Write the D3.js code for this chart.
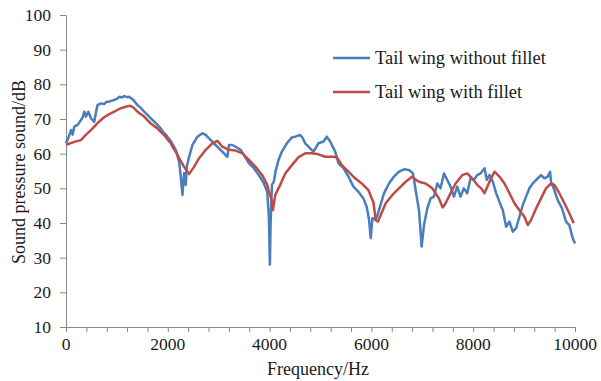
<!DOCTYPE html>
<html><head><meta charset="utf-8">
<script src="https://cdn.jsdelivr.net/npm/d3@7"></script>
<style>body{margin:0;background:#fff}svg{display:block}text{font-family:"Liberation Serif","Times New Roman",serif;fill:#1a1a1a}</style>
</head><body><svg id="c" width="601" height="381"></svg>
<script>
const seriesNames = ["Tail wing without fillet", "Tail wing with fillet"];
const seriesColors = ["#4A7EBB", "#BE4B48"];
const xTickValues = [0, 2000, 4000, 6000, 8000, 10000];
const yTickValues = [10, 20, 30, 40, 50, 60, 70, 80, 90, 100];

const blueFreq = [0,45,100,130,163,229,294,330,359,392,438,470,490,555,590,620,686,751,800,849,900,947,1000,1045,1100,1143,1200,1241,1307,1350,1405,1470,1536,1600,1667,1730,1797,1860,1928,1961,2059,2157,2222,2255,2288,2320,2353,2373,2418,2484,2582,2680,2745,2810,2908,3006,3104,3170,3202,3268,3333,3431,3497,3595,3692,3790,3888,3953,3986,4006,4020,4046,4085,4115,4176,4242,4340,4438,4503,4601,4650,4699,4797,4863,4961,5059,5124,5190,5288,5353,5451,5549,5647,5745,5843,5908,5954,5987,6020,6085,6150,6248,6346,6444,6542,6641,6739,6817,6869,6935,6987,7033,7098,7163,7229,7294,7359,7425,7490,7555,7621,7686,7751,7817,7882,7947,8013,8078,8143,8222,8268,8320,8386,8451,8516,8582,8647,8712,8778,8843,8908,8974,9039,9104,9170,9235,9333,9398,9465,9510,9529,9594,9660,9745,9824,9889,9955,10000];
const blueVal = [63,64.5,66.8,65.5,67.8,68.3,69.7,70.5,72.1,70.7,72.1,71.0,70.2,69.2,72.0,74.0,74.5,74.3,75.0,75.0,75.3,75.5,75.8,76.4,76.2,76.6,76.3,76.4,75.7,75.0,74.0,73.2,72.1,71.2,70.2,69.3,68.3,67.3,65.9,65.5,63.6,61.1,57.7,53.4,48.1,54.4,51.0,56.2,59.1,62.5,64.9,65.9,65.4,64.4,63.0,61.5,60.1,59.1,62.5,62.5,62.0,61.1,59.6,57.2,55.8,53.8,51.4,49.0,41.8,28.0,40.0,51.0,52.0,54.8,58.2,60.6,63.0,64.7,64.9,65.4,64.5,63.0,61.5,60.6,63.0,63.5,64.9,63.5,60.6,57.2,55.8,53.4,50.5,49.0,47.1,44.7,40.9,35.6,41.4,40.9,43.7,48.6,51.4,53.4,54.8,55.5,55.3,54.3,49.5,43.7,33.2,39.4,44.2,47.1,47.6,51.4,50.0,54.3,52.4,50.5,47.6,50.5,47.6,50.0,48.6,52.9,52.4,53.8,54.3,55.8,52.4,53.8,51.9,48.6,46.1,43.7,38.9,40.4,37.5,38.5,41.8,45.2,47.6,50.0,51.4,52.4,53.8,52.9,53.4,54.8,51.9,49.5,46.6,44.2,40.4,39.4,35.6,34.1];

const redFreq = [0,45,163,294,360,425,490,555,620,686,750,817,880,947,1010,1078,1140,1209,1260,1307,1350,1405,1470,1536,1600,1667,1730,1797,1860,1928,1990,2059,2092,2157,2222,2320,2418,2516,2614,2745,2876,2974,3072,3202,3333,3464,3595,3725,3856,3953,3980,4039,4065,4111,4209,4307,4438,4569,4699,4830,4961,5092,5222,5320,5418,5549,5680,5810,5941,6020,6039,6085,6130,6183,6281,6412,6542,6673,6804,6870,6935,7065,7196,7327,7400,7450,7523,7653,7784,7882,7980,8078,8157,8222,8320,8418,8516,8614,8712,8810,8908,9006,9072,9137,9235,9333,9431,9529,9594,9693,9791,9889,9974];
const redVal = [62.5,62.8,63.4,63.9,65.0,65.9,66.8,67.8,68.8,69.7,70.5,71.1,71.6,72.1,72.6,73.1,73.4,73.7,73.8,73.5,72.9,72.1,71.4,70.7,69.7,68.7,68.0,67.3,66.3,65.4,64.2,63.0,62.0,60.5,58.7,56.2,54.1,56.2,58.7,61.1,63.0,63.7,62.0,61.1,60.9,60.1,58.2,56.2,53.8,51.0,49.5,46.6,43.7,48.1,51.0,54.3,56.7,59.0,60.1,60.1,59.8,59.1,59.1,59.0,56.7,54.8,52.9,51.4,49.5,46.6,46.1,40.9,40.4,42.3,45.7,48.1,50.0,51.9,53.4,52.5,51.9,51.4,50.0,47.1,44.5,45.5,47.6,51.4,53.8,54.3,52.9,51.0,50.0,48.6,51.9,54.8,53.4,51.4,48.6,45.7,43.7,41.8,39.4,40.9,44.2,47.1,50.0,51.4,51.0,48.6,45.7,42.8,39.9];

const svg = d3.select("#c");
const x = d3.scaleLinear().domain([0, 10000]).range([66, 575]);
const y = d3.scaleLinear().domain([10, 100]).range([327, 15]);
const axisColor = "#888";

// X axis
const xg = svg.append("g").attr("transform", `translate(0,${y(10)})`)
  .call(d3.axisBottom(x).tickValues(d3.range(0, 10001, 400)).tickSize(5).tickFormat(""));
xg.select(".domain").attr("stroke", axisColor);
xg.selectAll(".tick line").attr("stroke", axisColor);
svg.append("g").selectAll("text").data(xTickValues).join("text")
  .attr("x", d => x(d)).attr("y", 350).attr("text-anchor", "middle")
  .attr("font-size", 17.5).text(d => d);

// Y axis
const yg = svg.append("g").attr("transform", `translate(${x(0)},0)`)
  .call(d3.axisLeft(y).tickValues(yTickValues).tickSize(6).tickFormat(""));
yg.select(".domain").attr("stroke", axisColor);
yg.selectAll(".tick line").attr("stroke", axisColor);
svg.append("g").selectAll("text").data(yTickValues).join("text")
  .attr("x", 51).attr("y", d => y(d)).attr("dy", "0.35em").attr("text-anchor", "end")
  .attr("font-size", 17.5).text(d => d);

// Titles
svg.append("text").attr("x", 318).attr("y", 375).attr("text-anchor", "middle")
  .attr("font-size", 18).text("Frequency/Hz");
svg.append("text").attr("transform", "translate(25,172) rotate(-90)").attr("text-anchor", "middle")
  .attr("font-size", 18).text("Sound pressure sound/dB");

// Lines
const line = d3.line().x(d => x(d[0])).y(d => y(d[1]));
const blue = blueFreq.map((f, i) => [f, blueVal[i]]);
const red = redFreq.map((f, i) => [f, redVal[i]]);
svg.append("path").datum(blue).attr("d", line).attr("fill", "none")
  .attr("stroke", seriesColors[0]).attr("stroke-width", 2.5).attr("stroke-linejoin", "round");
svg.append("path").datum(red).attr("d", line).attr("fill", "none")
  .attr("stroke", seriesColors[1]).attr("stroke-width", 2.5).attr("stroke-linejoin", "round");

// Legend
const lg = svg.append("g").selectAll("g").data(seriesNames).join("g")
  .attr("transform", (d, i) => `translate(333,${58 + i * 34})`);
lg.append("line").attr("x1", 0).attr("x2", 37).attr("stroke", (d, i) => seriesColors[i]).attr("stroke-width", 2.5);
lg.append("text").attr("x", 42).attr("dy", "0.32em").attr("font-size", 18.5).text(d => d);
</script></body></html>
